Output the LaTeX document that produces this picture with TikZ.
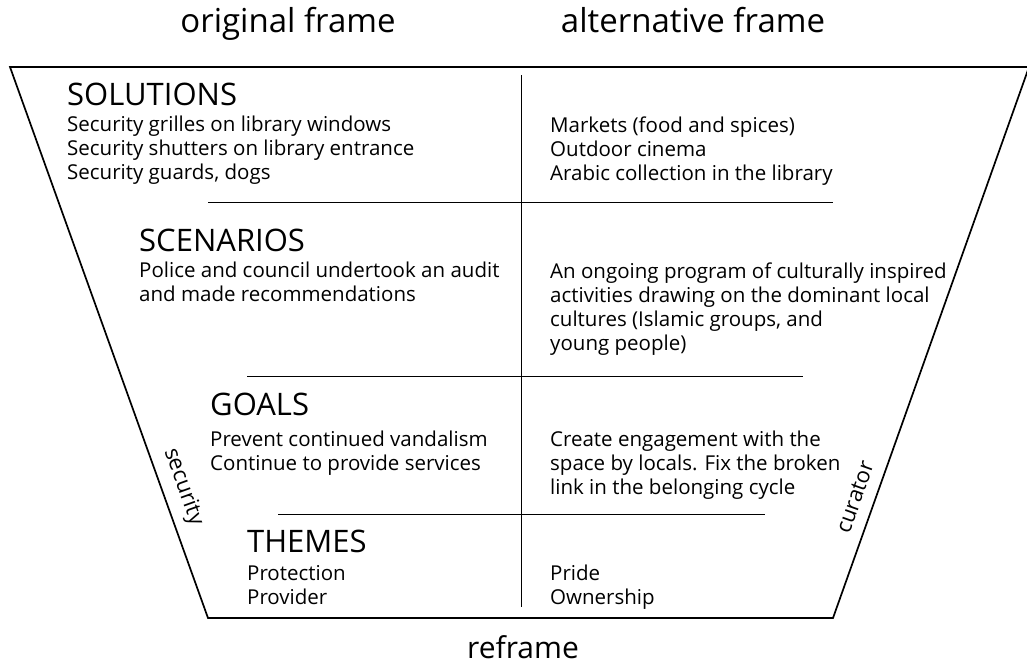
\documentclass[tikz,border=0pt]{standalone}
\usepackage{fontspec}
\setmainfont{Open Sans}

\begin{document}
\begin{tikzpicture}[
  x=1pt,y=-1pt,
  head/.style={anchor=base west, inner sep=0pt, font=\fontsize{31}{36}\selectfont},
  body/.style={anchor=north west, yshift=16.8pt, inner sep=0pt, align=left, font=\fontsize{20.5}{24}\selectfont, execute at begin node=\strut},
  framelabel/.style={anchor=base, inner sep=0pt, font=\fontsize{33}{38}\selectfont},
  side/.style={inner sep=0pt, font=\fontsize{22}{24}\selectfont},
  funnel/.style={line width=1.7pt, line join=miter},
  rule/.style={line width=1pt}
]
\useasboundingbox (0,0) rectangle (1027,664);
% funnel outline
\coordinate (tl) at (10,67); \coordinate (tr) at (1029,67);
\coordinate (br) at (833,618); \coordinate (bl) at (208,618);
\draw[funnel] (tl) -- (tr) -- (br) -- (bl) -- cycle;
% column split and level rules
\coordinate (splittop) at (521,75); \coordinate (splitbot) at (521,607);
\draw[rule] (splittop) -- (splitbot);
\draw[rule] (208,202) -- (833,202);
\draw[rule] (247,376) -- (803,376);
\draw[rule] (278,514) -- (765,514);

\node[framelabel] (orig) at (288,32.5) {original frame};
\node[framelabel] (alt) at (693,32.5) {alternative frame};
\node[framelabel, font=\fontsize{30}{36}\selectfont] (reframe) at (523,658) {reframe};

\node[side, rotate=-70.2] (security) at (183,487) {security};
\node[side, rotate=70.5] (curator) at (855,497) {curator};

\node[head] (solutions) at (67,105) {SOLUTIONS};
\node[body] (solL) at (67,133) {Security grilles on library windows\\Security shutters on library entrance\\Security guards, dogs};
\node[body] (solR) at (550,133) {Markets (food and spices)\\Outdoor cinema\\Arabic collection in the library};

\node[head] (scenarios) at (139,251) {SCENARIOS};
\node[body] (scenL) at (139,279) {Police and council undertook an audit\\and made recommendations};
\node[body] (scenR) at (550,279) {An ongoing program of culturally inspired\\activities drawing on the dominant local\\cultures (Islamic groups, and\\young people)};

\node[head] (goals) at (210,415) {GOALS};
\node[body] (goalL) at (210,448) {Prevent continued vandalism\\Continue to provide services};
\node[body] (goalR) at (550,448) {Create engagement with the\\space by locals. Fix the broken\\link in the belonging cycle};

\node[head] (themes) at (247,552) {THEMES};
\node[body] (themeL) at (247,582) {Protection\\Provider};
\node[body] (themeR) at (550,582) {Pride\\Ownership};
\end{tikzpicture}
\end{document}
